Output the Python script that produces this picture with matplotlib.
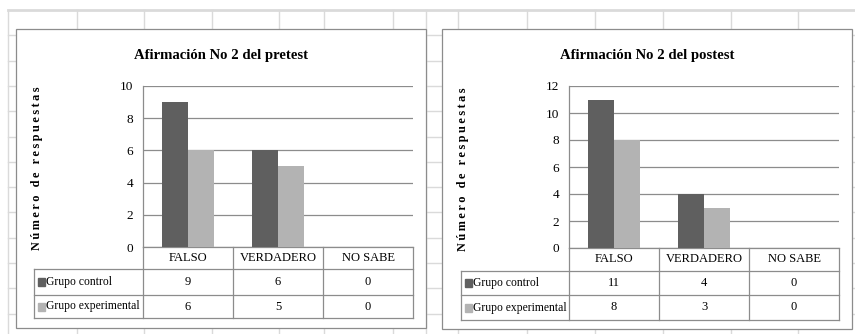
import matplotlib.pyplot as plt
from matplotlib.patches import Rectangle
from matplotlib.transforms import blended_transform_factory

categories = ["FALSO", "VERDADERO", "NO SABE"]
series = ["Grupo control", "Grupo experimental"]
pre_control = [9, 6, 0]
pre_experimental = [6, 5, 0]
post_control = [11, 4, 0]
post_experimental = [8, 3, 0]

W, H = 855, 334
DARK = "#5f5f5f"
LIGHT = "#b3b3b3"
LINE = "#8c8c8c"
SHEET = "#dadada"
SERIF = ["Liberation Serif", "DejaVu Serif"]

fig = plt.figure(figsize=(W / 100, H / 100), dpi=100)

# pixel-space overlay for the worksheet background and chart frames
bg = fig.add_axes([0, 0, 1, 1])
bg.set_xlim(0, W)
bg.set_ylim(H, 0)
bg.axis("off")

sheet_cols = [8, 77, 144, 212, 279, 324, 393, 426, 458, 527, 595, 663, 731, 798]
for k in range(14):
    y = 10 + 25.3 * k
    bg.plot([8, W], [y, y], color=SHEET, lw=2.0 if k == 0 else 1.0, zorder=0)
for x in sheet_cols:
    bg.plot([x, x], [10, H], color=SHEET, lw=1.0, zorder=0)


def frac(x0, y0, x1, y1):
    return [x0 / W, 1 - y1 / H, (x1 - x0) / W, (y1 - y0) / H]


def draw_chart(box, area, table_left, row_bottoms, ylabel_x, title, ymax,
               control, experimental):
    bx0, by0, bx1, by1 = box
    bg.add_patch(Rectangle((bx0, by0), bx1 - bx0, by1 - by0, fc="white",
                           ec=LINE, lw=0.9, zorder=1))
    bg.text((bx0 + bx1) / 2, 55, title, family=SERIF, fontsize=10.6,
            fontweight="bold", ha="center", va="center", zorder=2)
    label = "\u2009".join("Número de respuestas")
    bg.text(ylabel_x, (area[1] + area[3]) / 2 + 2, label, family=SERIF,
            fontsize=8.8, fontweight="bold", rotation=90, ha="center",
            va="center", zorder=2)

    ax = fig.add_axes(frac(*area))
    ax.set_facecolor("none")
    x = list(range(len(categories)))
    w = 1 / 3.5
    ax.bar([i - w / 2 for i in x], control, w, color=DARK, zorder=3)
    ax.bar([i + w / 2 for i in x], experimental, w, color=LIGHT, zorder=3)
    ax.set_xlim(-0.5, len(categories) - 0.5)
    ax.set_ylim(0, ymax)
    ax.set_yticks(range(0, ymax + 1, 2))
    ax.set_xticks([])
    ax.yaxis.grid(True, color=LINE, lw=0.9)
    ax.set_axisbelow(True)
    ax.tick_params(axis="y", length=0, pad=7, labelsize=9.5)
    for t in ax.get_yticklabels():
        t.set_family(SERIF)
    for s in ("top", "right"):
        ax.spines[s].set_visible(False)
    for s in ("left", "bottom"):
        ax.spines[s].set_color(LINE)
        ax.spines[s].set_linewidth(0.9)

    # data table under the plot area
    ax_w = area[2] - area[0]
    ax_h = area[3] - area[1]

    def ya(py):
        return (area[3] - py) / ax_h

    xl = (table_left - area[0]) / ax_w
    tr = blended_transform_factory(ax.transData, ax.transAxes)
    kw = dict(color=LINE, lw=0.9, clip_on=False, transform=ax.transAxes)
    bottom = ya(row_bottoms[-1])
    for rb in row_bottoms:
        ax.plot([xl, 1], [ya(rb), ya(rb)], **kw)
    ax.plot([xl, xl], [ya(row_bottoms[0]), bottom], **kw)
    for b in range(len(categories) + 1):
        xb = b / len(categories)
        ax.plot([xb, xb], [0, bottom], **kw)

    tops = [area[3]] + row_bottoms[:-1]
    mids = [ya((t + b) / 2) for t, b in zip(tops, row_bottoms)]
    txt = dict(family=SERIF, fontsize=9, ha="center", va="center",
               transform=tr, clip_on=False)
    for i, cat in enumerate(categories):
        ax.text(i, mids[0], cat, **txt)
        ax.text(i, mids[1], str(control[i]), **txt)
        ax.text(i, mids[2], str(experimental[i]), **txt)
    for name, color, ym in zip(series, [DARK, LIGHT], mids[1:]):
        ax.add_patch(Rectangle((xl + 4 / ax_w, ym - 4 / ax_h), 7 / ax_w,
                               8 / ax_h, color=color, transform=ax.transAxes,
                               clip_on=False))
        ax.text(xl + 12 / ax_w, ym, name, family=SERIF, fontsize=8.4,
                ha="left", va="center", transform=ax.transAxes, clip_on=False)
    return ax


draw_chart((16, 29, 426, 328), (143, 86, 413, 247), 34, [269, 295, 318], 37,
           "Afirmación No 2 del pretest", 10, pre_control, pre_experimental)
draw_chart((442, 29, 852, 329), (569, 86, 839, 248), 461, [271, 295, 320], 463,
           "Afirmación No 2 del postest", 12, post_control, post_experimental)

fig.savefig("out.png", dpi=100)
